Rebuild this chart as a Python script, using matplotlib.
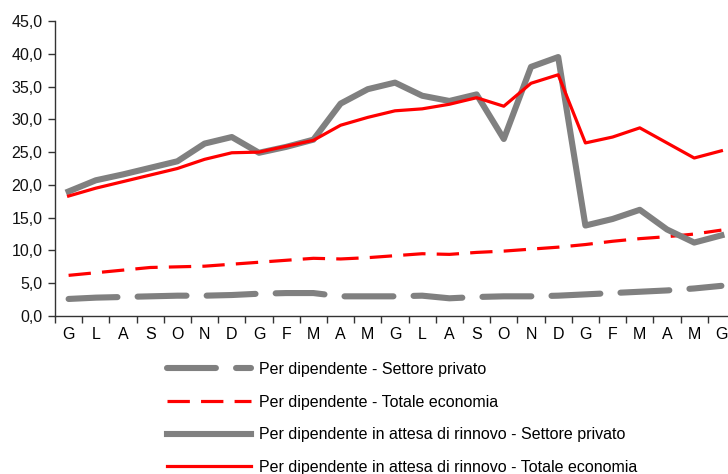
import matplotlib.pyplot as plt
from matplotlib.ticker import FixedLocator, FuncFormatter

plt.rcParams['font.family'] = ['Liberation Sans Narrow', 'Liberation Sans', 'DejaVu Sans']

# -----------------------
# Data
# -----------------------
months = ["G", "L", "A", "S", "O", "N", "D", "G", "F", "M", "A", "M", "G",
          "L", "A", "S", "O", "N", "D", "G", "F", "M", "A", "M", "G"]

priv_dip = [2.6, 2.8, 2.9, 3.0, 3.1, 3.1, 3.2, 3.4, 3.5, 3.5, 3.0, 3.0, 3.0,
            3.1, 2.7, 2.9, 3.0, 3.0, 3.1, 3.3, 3.5, 3.7, 3.9, 4.2, 4.6]
tot_dip = [6.2, 6.6, 7.0, 7.4, 7.5, 7.6, 7.9, 8.2, 8.5, 8.8, 8.7, 8.9, 9.2,
           9.5, 9.4, 9.7, 9.9, 10.2, 10.5, 10.9, 11.4, 11.8, 12.1, 12.5, 13.1]
priv_att = [19.0, 20.7, 21.6, 22.6, 23.6, 26.3, 27.3, 24.9, 25.8, 26.9, 32.4, 34.6, 35.6,
            33.6, 32.8, 33.8, 27.0, 38.0, 39.5, 13.8, 14.8, 16.2, 13.2, 11.2, 12.3]
tot_att = [18.3, 19.5, 20.5, 21.5, 22.5, 23.9, 24.9, 25.0, 25.9, 26.8, 29.1, 30.3, 31.3,
           31.6, 32.3, 33.3, 32.0, 35.5, 36.8, 26.4, 27.3, 28.7, 26.4, 24.1, 25.2]

labels = ["Per dipendente - Settore privato",
          "Per dipendente - Totale economia",
          "Per dipendente in attesa di rinnovo - Settore privato",
          "Per dipendente in attesa di rinnovo - Totale economia"]

GREY = "#808080"
RED = "#FF0000"
FS = 11.5

# -----------------------
# Figure
# -----------------------
fig = plt.figure(figsize=(7.28, 4.74), dpi=100)
ax = fig.add_axes([55 / 728, 1 - 316 / 474, 680 / 728, 295 / 474])

x = list(range(len(months)))
l1, = ax.plot(x, priv_dip, color=GREY, lw=4.4, dashes=(8, 3.3), dash_capstyle="round",
              solid_capstyle="round")
l2, = ax.plot(x, tot_dip, color=RED, lw=2.3, dashes=(7, 3.5))
l3, = ax.plot(x, priv_att, color=GREY, lw=4.4)
l4, = ax.plot(x, tot_att, color=RED, lw=2.3)

ax.set_xlim(-0.5, len(months) - 0.5)
ax.set_ylim(0, 45)
ax.set_yticks(range(0, 46, 5))
ax.yaxis.set_major_formatter(FuncFormatter(lambda v, p: f"{v:.1f}".replace(".", ",")))

ax.set_xticks([i - 0.5 for i in range(len(months) + 1)])
ax.set_xticklabels([])
ax.xaxis.set_minor_locator(FixedLocator(x))
ax.set_xticklabels(months, minor=True)
ax.tick_params(axis="x", which="minor", length=0, pad=8)
ax.tick_params(axis="x", which="major", length=5, width=1, color="#333333")
ax.tick_params(axis="y", length=5, width=1, color="#333333", pad=4)
ax.tick_params(labelsize=FS, labelcolor="#111111")
for lab in ax.get_xticklabels(minor=True):
    lab.set_fontsize(FS)

for s in ["top", "right"]:
    ax.spines[s].set_visible(False)
for s in ["left", "bottom"]:
    ax.spines[s].set_color("#333333")
    ax.spines[s].set_linewidth(1)

leg = fig.legend([l1, l2, l3, l4], labels, loc="upper left",
                 bbox_to_anchor=(167 / 728, 1 - 362 / 474), frameon=False,
                 fontsize=FS, handlelength=5.25, handletextpad=0.5, labelspacing=1.1,
                 borderaxespad=0, borderpad=0)

fig.savefig("out.png", dpi=100)
